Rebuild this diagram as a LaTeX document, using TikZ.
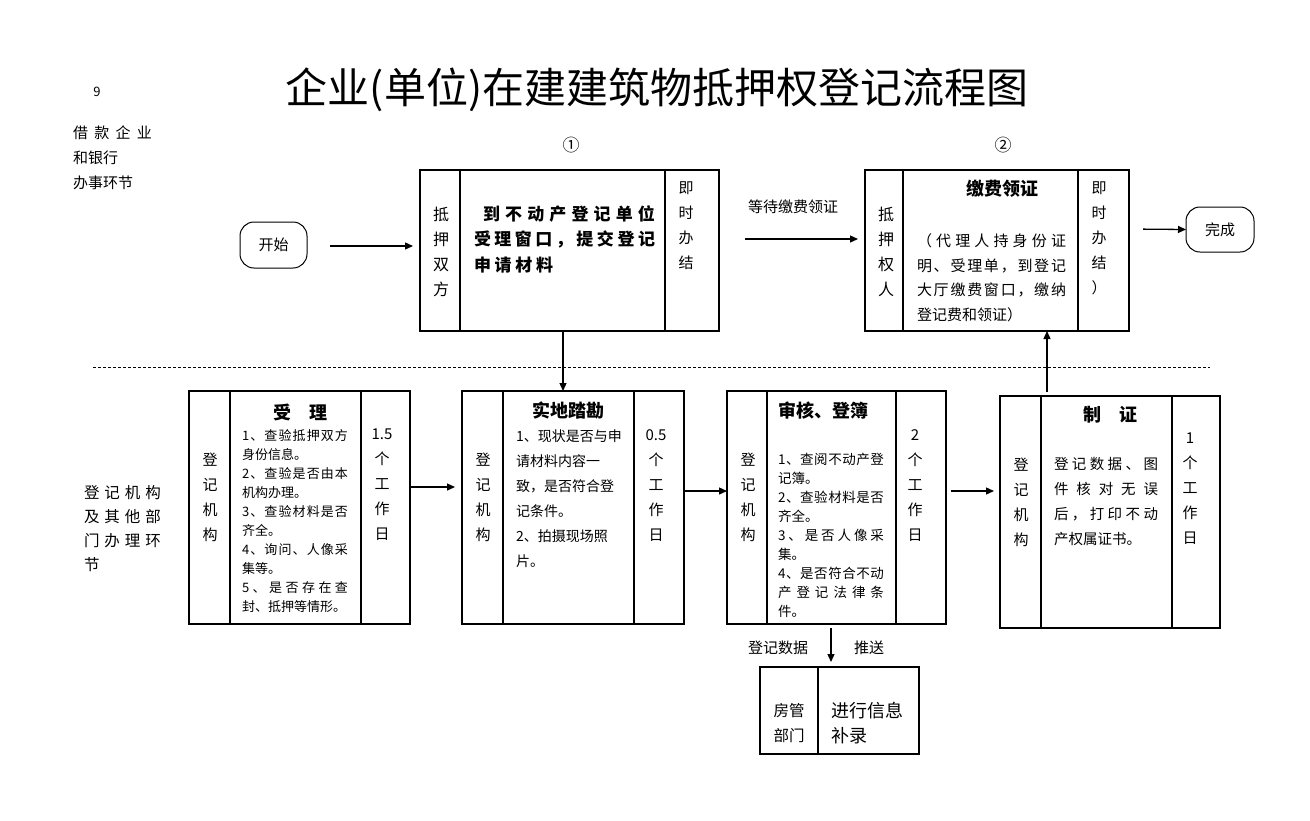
\documentclass[tikz,border=0pt]{standalone}
\usepackage{fontspec}
\setmainfont{Noto Sans CJK SC}
\usetikzlibrary{arrows.meta,calc}
\makeatletter
\newcommand\spr[2]{\makebox[#1][s]{\let\spr@sep\relax\@tfor\spr@c:=#2\do{\spr@sep\spr@c\let\spr@sep\hfil}}}
\makeatother
\tikzset{
  box/.style={draw, line width=1.2pt, anchor=north west, inner sep=0pt, outer sep=0pt},
  rbox/.style={draw, line width=1pt, rounded corners=14pt, inner sep=0pt, outer sep=0pt, font=\fontsize{15}{18}\selectfont},
  divl/.style={line width=1.2pt},
  arr/.style={-{Triangle[length=8pt,width=7pt]}, line width=1.3pt},
  txt/.style={inner sep=0pt, outer sep=0pt, anchor=north west, align=left},
  vcol/.style={inner sep=0pt, outer sep=0pt, anchor=north, align=center, font=\fontsize{15}{25}\selectfont},
  lbl/.style={inner sep=0pt, outer sep=0pt, font=\fontsize{15}{18}\selectfont},
  ttl/.style={inner sep=0pt, outer sep=0pt, font=\fontsize{18}{20}\selectfont\bfseries},
}
\begin{document}
\begin{tikzpicture}[x=1pt,y=-1pt]
\useasboundingbox[fill=white] (0,0) rectangle (1310,820);

% title and side labels
\node[inner sep=0pt, font=\fontsize{42}{44}\selectfont] (title) at (657,90) {企业(单位)在建建筑物抵押权登记流程图};
\node[lbl, font=\fontsize{13}{15}\selectfont] (pg) at (97,92) {9};
\node[txt, font=\fontsize{15}{25}\selectfont] (lab1) at (73,125.5) {\spr{79pt}{借款企业}\\和银行\\办事环节};
\node[txt, font=\fontsize{15.5}{24}\selectfont] (lab2) at (84,485) {\spr{77pt}{登记机构}\\\spr{77pt}{及其他部}\\\spr{77pt}{门办理环}\\节};

\node[lbl, font=\fontsize{17}{18}\selectfont] (n1) at (571,145) {①};
\node[lbl, font=\fontsize{17}{18}\selectfont] (n2) at (1003,145) {②};

% start / done
\node[rbox, minimum width=67pt, minimum height=46pt] (start) at (273.5,245) {开始};
\node[rbox, minimum width=68pt, minimum height=45pt] (done) at (1220,229.5) {完成};

% box 1
\node[box, minimum width=299pt, minimum height=161pt] (p1) at (420,170) {};
\draw[divl] (460,170) -- (460,331);
\draw[divl] (665,170) -- (665,331);
\node[vcol, font=\fontsize{16}{25}\selectfont] (p1l) at (441,207) {抵\\押\\双\\方};
\node[txt, font=\fontsize{17}{25.5}\selectfont\bfseries] (p1t) at (474,205.5) {\hspace*{9pt}\spr{172pt}{到不动产登记单位}\\\spr{181pt}{受理窗口，提交登记}\\\spr{79pt}{申请材料}};
\node[vcol] (p1r) at (686,181.5) {即\\时\\办\\结};

% box 2
\node[box, minimum width=264pt, minimum height=161pt] (p2) at (865,170) {};
\draw[divl] (903,170) -- (903,331);
\draw[divl] (1078,170) -- (1078,331);
\node[vcol, font=\fontsize{16}{25}\selectfont] (p2l) at (886,207) {抵\\押\\权\\人};
\node[ttl] (p2h) at (1002,189) {缴费领证};
\node[txt, font=\fontsize{15}{24.7}\selectfont] (p2t) at (917,233.5) {\spr{149pt}{（代理人持身份证}\\\spr{149pt}{明、受理单，到登记}\\\spr{149pt}{大厅缴费窗口，缴纳}\\登记费和领证）};
\node[vcol] (p2r) at (1099,181.5) {即\\时\\办\\结\\）};

\node[lbl] (wait) at (793,207) {等待缴费领证};

% dashed separator
\draw[dashed, line width=0.8pt, dash pattern=on 3pt off 2pt] (93,367) -- (1210,367);

% bottom box 1
\node[box, minimum width=221pt, minimum height=233pt] (b1) at (189,391) {};
\draw[divl] (230,391) -- (230,624);
\draw[divl] (361,391) -- (361,624);
\node[vcol] (b1l) at (210,452.5) {登\\记\\机\\构};
\node[ttl] (b1h) at (300,412) {受\hspace{1em}理};
\node[txt, font=\fontsize{13}{19}\selectfont] (b1t) at (242,429.5) {\spr{106pt}{1、查验抵押双方}\\身份信息。\\\spr{106pt}{2、查验是否由本}\\机构办理。\\\spr{106pt}{3、查验材料是否}\\齐全。\\\spr{106pt}{4、询问、人像采}\\集等。\\\spr{106pt}{5、是否存在查}\\封、抵押等情形。};
\node[vcol] (b1r) at (382,428.5) {1.5\\个\\工\\作\\日};

% bottom box 2
\node[box, minimum width=222pt, minimum height=233pt] (b2) at (462,391) {};
\draw[divl] (503,391) -- (503,624);
\draw[divl] (634,391) -- (634,624);
\node[vcol] (b2l) at (483,452.5) {登\\记\\机\\构};
\node[ttl] (b2h) at (568,411) {实地踏勘};
\node[txt, font=\fontsize{14}{25}\selectfont] (b2t) at (516,430) {1、现状是否与申\\请材料内容一\\致，是否符合登\\记条件。\\2、拍摄现场照\\片。};
\node[vcol] (b2r) at (656,429.5) {0.5\\个\\工\\作\\日};

% bottom box 3
\node[box, minimum width=219pt, minimum height=233pt] (b3) at (727,391) {};
\draw[divl] (767,391) -- (767,624);
\draw[divl] (896,391) -- (896,624);
\node[vcol] (b3l) at (748,452.5) {登\\记\\机\\构};
\node[ttl, anchor=west] (b3h) at (778,411) {审核、登簿};
\node[txt, font=\fontsize{13.5}{19}\selectfont] (b3t) at (778,453) {\spr{106pt}{1、查阅不动产登}\\记簿。\\\spr{106pt}{2、查验材料是否}\\齐全。\\\spr{106pt}{3、是否人像采}\\集。\\\spr{106pt}{4、是否符合不动}\\\spr{106pt}{产登记法律条}\\件。};
\node[vcol] (b3r) at (915,429.5) {2\\个\\工\\作\\日};

% bottom box 4
\node[box, minimum width=220pt, minimum height=232pt] (b4) at (1000,396) {};
\draw[divl] (1041,396) -- (1041,628);
\draw[divl] (1172,396) -- (1172,628);
\node[vcol] (b4l) at (1021,457.5) {登\\记\\机\\构};
\node[ttl] (b4h) at (1110,415) {制\hspace{1em}证};
\node[txt, font=\fontsize{14.5}{25}\selectfont] (b4t) at (1054,457.75) {\spr{104pt}{登记数据、图}\\\spr{104pt}{件核对无误}\\\spr{104pt}{后，打印不动}\\产权属证书。};
\node[vcol] (b4r) at (1190,432.5) {1\\个\\工\\作\\日};

% housing department box
\node[box, minimum width=159pt, minimum height=87pt] (hb) at (760,667) {};
\draw[divl] (818,667) -- (818,754);
\node[vcol, font=\fontsize{15.5}{25}\selectfont] (hbl) at (789,703) {房管\\部门};
\node[txt, font=\fontsize{18}{25}\selectfont] (hbt) at (831,702) {进行信息\\补录};
\node[lbl] (push1) at (778,648) {登记数据};
\node[lbl] (push2) at (869,648) {推送};

% connectors
\coordinate (cx1) at (563,0);
\coordinate (cx2) at (1047,0);
\coordinate (cx3) at (831,0);
\coordinate (ya) at (0,246);
\coordinate (yb) at (0,239);
\coordinate (yc) at (0,229);
\coordinate (yd) at (0,487);
\coordinate (ye) at (0,491);
\draw[arr, shorten <=23pt, shorten >=7pt] (start.east |- ya) -- (p1.west |- ya);
\draw[arr, shorten <=26pt, shorten >=7pt] (p1.east |- yb) -- (p2.west |- yb);
\draw[arr, shorten <=14pt] (p2.east |- yc) -- (done.west);
\draw[arr] (p1.south -| cx1) -- (b2.north -| cx1);
\draw[arr, shorten >=7pt] (b1.east |- yd) -- (b2.west |- yd);
\draw[arr] (b2.east |- ye) -- (b3.west |- ye);
\draw[arr, shorten <=5pt, shorten >=6pt] (b3.east |- ye) -- (b4.west |- ye);
\draw[arr, shorten <=4pt] (b4.north -| cx2) -- (p2.south -| cx2);
\draw[arr, shorten <=4pt, shorten >=5pt] (b3.south -| cx3) -- (hb.north -| cx3);
\end{tikzpicture}
\end{document}
